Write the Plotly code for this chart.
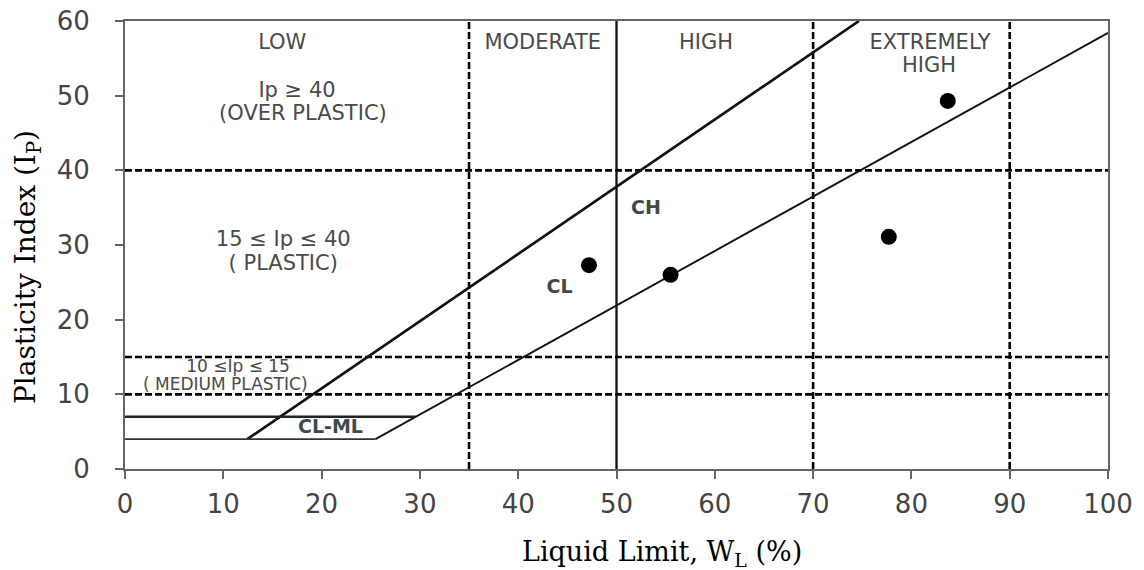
import plotly.graph_objects as go

# ---- data ----
points_wl = [47.2, 55.5, 77.7, 83.7]
points_ip = [27.3, 26.0, 31.1, 49.3]

# U-line: Ip = 0.9 (wL - 8), from Ip=4 up to Ip=60
u_line_wl = [12.44, 74.67]
u_line_ip = [4, 60]
# A-line: Ip = 0.73 (wL - 20), from Ip=4 up to wL=100
a_line_wl = [25.48, 100]
a_line_ip = [4, 58.4]
# CL-ML band horizontals
clml_upper_wl = [0, 29.59]
clml_upper_ip = [7, 7]
clml_lower_wl = [0, 25.48]
clml_lower_ip = [4, 4]

# boundaries
dashed_wl = [35, 70, 90]
solid_wl = [50]
dashed_ip = [10, 15, 40]

x_ticks = [0, 10, 20, 30, 40, 50, 60, 70, 80, 90, 100]
y_ticks = [0, 10, 20, 30, 40, 50, 60]

region_text = ["LOW", "MODERATE", "HIGH", "EXTREMELY", "HIGH",
               "Ip ≥ 40", "(OVER PLASTIC)", "15 ≤ Ip ≤ 40", "( PLASTIC)"]
region_x = [16.0, 42.5, 59.1, 81.9, 81.8, 17.5, 18.1, 16.1, 16.1]
region_y = [56.9, 56.9, 56.9, 57.0, 53.9, 50.5, 47.5, 30.6, 27.3]

medium_text = ["10 ≤Ip ≤ 15", "( MEDIUM PLASTIC)"]
medium_x = [11.5, 10.2]
medium_y = [13.6, 11.1]

zone_text = ["CL-ML", "CH", "CL"]
zone_x = [20.9, 53.0, 44.2]
zone_y = [5.5, 34.8, 24.2]

fig = go.Figure()

DASH = "7px,3px"
for x in dashed_wl:
    fig.add_trace(go.Scatter(x=[x, x], y=[0, 60], mode="lines",
                             line=dict(color="black", width=2.6, dash=DASH),
                             hoverinfo="skip", showlegend=False))
for x in solid_wl:
    fig.add_trace(go.Scatter(x=[x, x], y=[0, 60], mode="lines",
                             line=dict(color="#111", width=2.3),
                             hoverinfo="skip", showlegend=False))
for y in dashed_ip:
    fig.add_trace(go.Scatter(x=[0, 100], y=[y, y], mode="lines",
                             line=dict(color="black", width=2.6, dash=DASH),
                             hoverinfo="skip", showlegend=False))

fig.add_trace(go.Scatter(x=u_line_wl, y=u_line_ip, mode="lines",
                         line=dict(color="#111", width=2.7), showlegend=False, hoverinfo="skip"))
fig.add_trace(go.Scatter(x=a_line_wl, y=a_line_ip, mode="lines",
                         line=dict(color="#111", width=1.9), showlegend=False, hoverinfo="skip"))
fig.add_trace(go.Scatter(x=clml_upper_wl, y=clml_upper_ip, mode="lines",
                         line=dict(color="#222", width=2.5), showlegend=False, hoverinfo="skip"))
fig.add_trace(go.Scatter(x=clml_lower_wl, y=clml_lower_ip, mode="lines",
                         line=dict(color="#333", width=1.7), showlegend=False, hoverinfo="skip"))

fig.add_trace(go.Scatter(x=points_wl, y=points_ip, mode="markers",
                         marker=dict(color="black", size=16, symbol="circle"),
                         showlegend=False))

fig.add_trace(go.Scatter(x=region_x, y=region_y, mode="text", text=region_text,
                         textfont=dict(family="DejaVu Sans", size=21, color="#4a4a4a"),
                         showlegend=False, hoverinfo="skip"))
fig.add_trace(go.Scatter(x=medium_x, y=medium_y, mode="text", text=medium_text,
                         textfont=dict(family="DejaVu Sans", size=17, color="#4a4a4a"),
                         showlegend=False, hoverinfo="skip"))
fig.add_trace(go.Scatter(x=zone_x, y=zone_y, mode="text", text=zone_text,
                         textfont=dict(family="DejaVu Sans", size=19, color="#3d4b4a",
                                       weight="bold"),
                         showlegend=False, hoverinfo="skip"))

axis_common = dict(showgrid=False, zeroline=False, showline=True, linecolor="#666",
                   linewidth=2, mirror=True, ticks="outside", ticklen=8, tickwidth=2,
                   tickcolor="#666", automargin=False, ticklabeloverflow="allow",
                   tickfont=dict(family="DejaVu Sans", size=26, color="#444"))

# page pixel targets of the plot area: left 125, right 1108, top 21, bottom 469
# (the page body adds an 8px offset to the figure)
fig.update_layout(
    width=1144, height=570,
    margin=dict(l=117, r=44, t=13, b=109),
    paper_bgcolor="white", plot_bgcolor="white",
    xaxis=dict(range=[0, 100], tickvals=x_ticks, ticklabelstandoff=3, **axis_common),
    yaxis=dict(range=[0, 60], tickvals=y_ticks, ticklabelstandoff=20, **axis_common),
    annotations=[
        dict(text="Liquid Limit, W<sub>L</sub> (%)", xref="paper", yref="paper",
             x=(662 - 125) / (1108 - 125), y=-(553 - 469) / (469 - 21),
             xanchor="center", yanchor="middle", showarrow=False,
             font=dict(family="DejaVu Serif", size=27, color="black")),
        dict(text="Plasticity Index (I<sub>P</sub>)", xref="paper", yref="paper",
             x=-(125 - 27) / (1108 - 125), y=(469 - 267) / (469 - 21),
             xanchor="center", yanchor="middle", textangle=-90, showarrow=False,
             font=dict(family="DejaVu Serif", size=28, color="black")),
    ],
)

fig.write_html("out.html")
